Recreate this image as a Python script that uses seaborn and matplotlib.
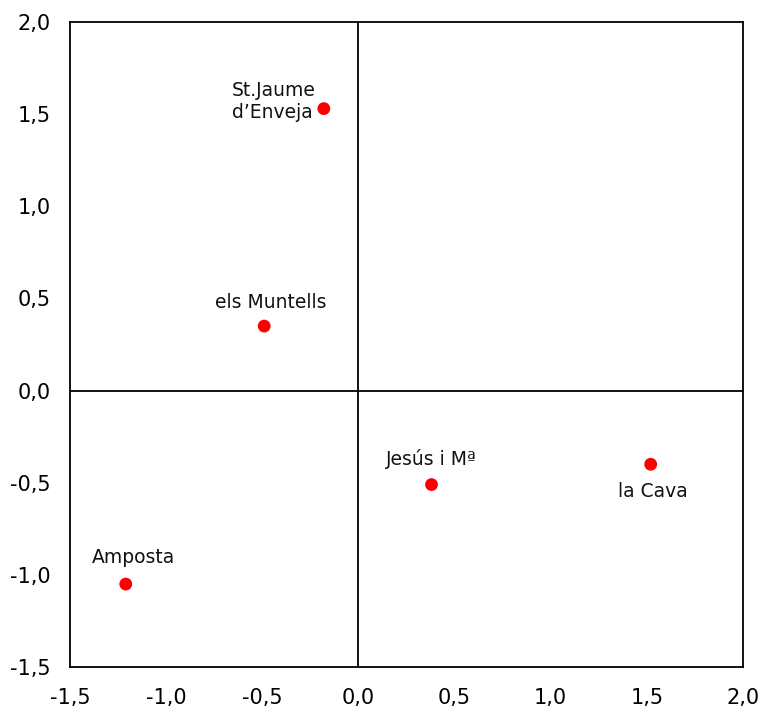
import pandas as pd
import matplotlib.pyplot as plt
import seaborn as sns
from matplotlib.ticker import FuncFormatter, MultipleLocator

# data
places = ["St.Jaume\nd\u2019Enveja", "els Muntells", "Jes\u00fas i M\u00aa", "la Cava", "Amposta"]
x_vals = [-0.18, -0.49, 0.38, 1.52, -1.21]
y_vals = [1.53, 0.35, -0.51, -0.40, -1.05]

df = pd.DataFrame({"place": places, "x": x_vals, "y": y_vals})

sns.set_style("white")
plt.rcParams["font.family"] = ["DejaVu Sans"]

fig = plt.figure(figsize=(7.67, 7.12), dpi=100)
ax = fig.add_axes([70 / 767, 1 - 667 / 712, 673 / 767, 645 / 712])

ax.axhline(0, color="black", lw=1.3, zorder=1)
ax.axvline(0, color="black", lw=1.3, zorder=1)

sns.scatterplot(data=df, x="x", y="y", ax=ax, color="#ff0000", s=85,
                edgecolor="none", zorder=3, legend=False)

# label offsets (pixels) relative to each point
offsets = {
    places[0]: (-8, 7, "right", "center"),
    places[1]: (7, 24, "center", "center"),
    places[2]: (0, 26, "center", "center"),
    places[3]: (2, -27, "center", "center"),
    places[4]: (8, 27, "center", "center"),
}
for _, r in df.iterrows():
    dx, dy, ha, va = offsets[r["place"]]
    ax.annotate(r["place"], (r["x"], r["y"]), xytext=(dx, dy),
                textcoords="offset pixels", ha=ha, va=va,
                multialignment="left", fontsize=13.5, color="#111111",
                linespacing=1.2)

ax.set_xlim(-1.5, 2.0)
ax.set_ylim(-1.5, 2.0)
ax.xaxis.set_major_locator(MultipleLocator(0.5))
ax.yaxis.set_major_locator(MultipleLocator(0.5))
fmt = FuncFormatter(lambda v, p: f"{v:.1f}".replace(".", ","))
ax.xaxis.set_major_formatter(fmt)
ax.yaxis.set_major_formatter(fmt)
ax.tick_params(axis="both", length=0, labelsize=15, colors="black")
ax.tick_params(axis="x", pad=15)
ax.tick_params(axis="y", pad=14)
ax.set_xlabel("")
ax.set_ylabel("")
for sp in ax.spines.values():
    sp.set_color("black")
    sp.set_linewidth(1.3)

fig.savefig("out.png", dpi=100)
